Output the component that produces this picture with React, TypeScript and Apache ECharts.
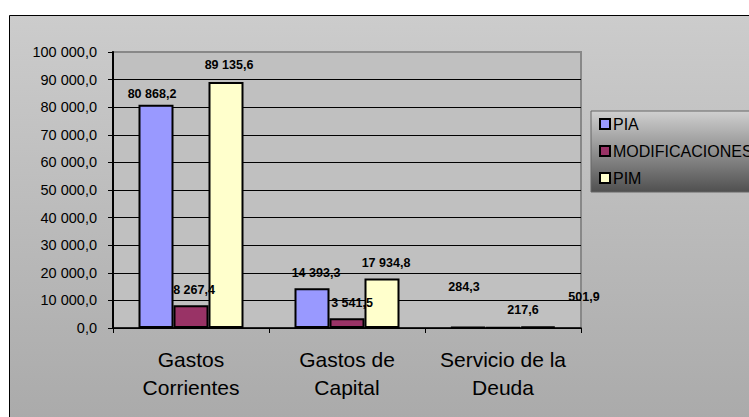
import React, { useEffect, useRef } from "react";
import * as echarts from "echarts";

const categories = ["Gastos\nCorrientes", "Gastos de\nCapital", "Servicio de la\nDeuda"];
const seriesNames = ["PIA", "MODIFICACIONES", "PIM"];
const pia = [80868.2, 14393.3, 284.3];
const modificaciones = [8267.4, 3541.5, 217.6];
const pim = [89135.6, 17934.8, 501.9];
const yMin = 0;
const yMax = 100000;
const yInterval = 10000;

// label nudges (styling, as placed in the original)
const piaLabelOffsets = [[-4, 1], [4, -4], [-4, -28]];
const modLabelOffsets = [[3, -4], [5, -4], [20, -5]];
const pimLabelOffsets = [[3, -5], [4, -4], [46, -18]];

const colors = ["#9999ff", "#993366", "#ffffcc"];
const FONT = "'Liberation Sans', Arial, sans-serif";

function fmt(v: number): string {
  const s = v.toFixed(1);
  const [ip, dp] = s.split(".");
  const withSpaces = ip.replace(/\B(?=(\d{3})+(?!\d))/g, " ");
  return withSpaces + "," + dp;
}

export default function App() {
  const ref = useRef<HTMLDivElement>(null);
  useEffect(() => {
    if (!ref.current) return;
    const chart = echarts.init(ref.current, undefined, { renderer: "svg" });
    const values = [pia, modificaciones, pim];
    const offsets = [piaLabelOffsets, modLabelOffsets, pimLabelOffsets];
    chart.setOption({
      animation: false,
      backgroundColor: "#ffffff",
      graphic: [
        {
          type: "rect",
          x: 9.5,
          y: 15.5,
          z: -10,
          shape: { width: 760, height: 420 },
          style: {
            fill: new echarts.graphic.LinearGradient(0, 0, 0, 1, [
              { offset: 0, color: "#cccccc" },
              { offset: 1, color: "#a9a9a9" },
            ]),
            stroke: "#000000",
            lineWidth: 1,
          },
        },
      ],
      grid: {
        left: 113,
        top: 52,
        width: 468,
        height: 276,
        show: true,
        backgroundColor: "#c0c0c0",
        borderColor: "#888888",
        borderWidth: 2,
        containLabel: false,
      },
      legend: {
        orient: "vertical",
        left: 591,
        top: 111,
        data: seriesNames,
        icon: "rect",
        itemWidth: 10,
        itemHeight: 10,
        itemGap: 11,
        padding: [5, 40, 6, 8],
        backgroundColor: new echarts.graphic.LinearGradient(0, 0, 0, 1, [
          { offset: 0, color: "#d0d0d0" },
          { offset: 1, color: "#505050" },
        ]),
        borderColor: "#666666",
        borderWidth: 1,
        itemStyle: { borderColor: "#000000", borderWidth: 2 },
        textStyle: { fontFamily: FONT, fontSize: 16, color: "#000000", padding: [0, 0, 0, -2] },
      },
      xAxis: {
        type: "category",
        data: categories,
        axisLine: { lineStyle: { color: "#000000", width: 1.5 } },
        axisTick: { show: true, length: 5, lineStyle: { color: "#000000" } },
        axisLabel: {
          fontFamily: FONT,
          fontSize: 21,
          lineHeight: 28,
          color: "#000000",
          margin: 17,
          interval: 0,
        },
      },
      yAxis: {
        type: "value",
        min: yMin,
        max: yMax,
        interval: yInterval,
        axisLine: { show: true, lineStyle: { color: "#000000", width: 2 } },
        axisTick: { show: true, length: 5, lineStyle: { color: "#000000" } },
        axisLabel: {
          fontFamily: FONT,
          fontSize: 14.5,
          color: "#000000",
          margin: 16,
          formatter: (v: number) => fmt(v),
        },
        splitLine: { show: true, showMaxLine: false, lineStyle: { color: "#000000", width: 1 } },
      },
      series: seriesNames.map((name, si) => ({
        name,
        type: "bar",
        barWidth: 35,
        barGap: "0%",
        itemStyle: { color: colors[si], borderColor: "#000000", borderWidth: 2 },
        label: {
          show: true,
          position: "top",
          distance: 5,
          fontFamily: FONT,
          fontSize: 12.5,
          fontWeight: "bold",
          color: "#000000",
          formatter: (p: any) => fmt(p.value),
        },
        data: values[si].map((v, i) => ({ value: v, label: { offset: offsets[si][i] } })),
      })),
    });
    return () => chart.dispose();
  }, []);
  return (
    <div
      ref={ref}
      style={{ position: "absolute", left: 0, top: 0, width: 749, height: 417 }}
    />
  );
}
